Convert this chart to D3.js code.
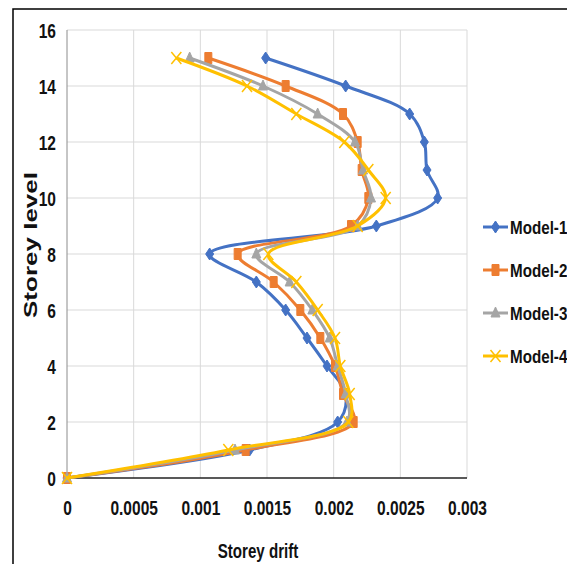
<!DOCTYPE html>
<html><head><meta charset="utf-8">
<script src="https://cdn.jsdelivr.net/npm/d3@7/dist/d3.min.js"></script>
<style>body{margin:0;background:#fff}svg{display:block}</style>
</head><body>
<svg id="c" width="567" height="564"></svg>
<script>
const levels = [0,1,2,3,4,5,6,7,8,9,10,11,12,13,14,15];
const model1 = [0,0.00137,0.00203,0.00209,0.00195,0.00180,0.00164,0.00142,0.00107,0.00232,0.00278,0.00270,0.00268,0.00257,0.00209,0.00149];
const model2 = [0,0.00134,0.00215,0.00207,0.00201,0.00190,0.00175,0.00155,0.00128,0.00213,0.00226,0.00221,0.00218,0.00207,0.00164,0.00106];
const model3 = [0,0.00126,0.00210,0.00209,0.00203,0.00197,0.00184,0.00167,0.00142,0.00218,0.00228,0.00222,0.00216,0.00188,0.00147,0.00092];
const model4 = [0,0.00121,0.00211,0.00212,0.00205,0.00201,0.00188,0.00172,0.00151,0.00218,0.00239,0.00226,0.00208,0.00172,0.00135,0.00082];
const seriesNames = ["Model-1","Model-2","Model-3","Model-4"];
const colors = ["#4472C4","#ED7D31","#A5A5A5","#FFC000"];
const markers = ["diamond","square","triangle","x"];
const xTicks = [0,0.0005,0.001,0.0015,0.002,0.0025,0.003];
const xTickLabels = ["0","0.0005","0.001","0.0015","0.002","0.0025","0.003"];
const yTicks = [0,2,4,6,8,10,12,14,16];
const yTickLabels = ["0","2","4","6","8","10","12","14","16"];
const xTitle = "Storey drift";
const yTitle = "Storey level";

const svg = d3.select("#c");
const FONT = "Liberation Sans, Arial, sans-serif";
const x = d3.scaleLinear().domain([0,0.003]).range([67,467]);
const y = d3.scaleLinear().domain([0,16]).range([478,30]);

// frame
svg.append("path").attr("d","M13,564 L13,9 L567,9").attr("fill","none").attr("stroke","#000").attr("stroke-width",1.5);

// gridlines
const g = svg.append("g");
g.selectAll(".gx").data(xTicks.slice(1)).join("line")
  .attr("x1",d=>x(d)).attr("x2",d=>x(d)).attr("y1",y(16)).attr("y2",y(0))
  .attr("stroke","#d9d9d9").attr("stroke-width",1);
g.selectAll(".gy").data(yTicks.slice(1)).join("line")
  .attr("x1",x(0)).attr("x2",x(0.003)).attr("y1",d=>y(d)).attr("y2",d=>y(d))
  .attr("stroke","#d9d9d9").attr("stroke-width",1);
g.append("line").attr("x1",x(0)).attr("x2",x(0)).attr("y1",y(16)).attr("y2",y(0))
  .attr("stroke","#8c8c8c").attr("stroke-width",1);
g.append("line").attr("x1",x(0)).attr("x2",x(0.003)).attr("y1",y(0)).attr("y2",y(0))
  .attr("stroke","#222").attr("stroke-width",1.5);

// axes labels
const xa = svg.append("g").attr("transform",`translate(0,${y(0)})`)
  .call(d3.axisBottom(x).tickValues(xTicks).tickFormat((d,i)=>xTickLabels[i]).tickSize(0));
xa.select(".domain").remove();
xa.selectAll("text").attr("y",0).attr("dy",0)
  .attr("transform","translate(0,37) scale(0.74,1)")
  .attr("font-family",FONT).attr("font-weight","bold").attr("font-size",21).attr("fill","#111");
const ya = svg.append("g").attr("transform",`translate(${x(0)},0)`)
  .call(d3.axisLeft(y).tickValues(yTicks).tickFormat((d,i)=>yTickLabels[i]).tickSize(0));
ya.select(".domain").remove();
ya.selectAll("text").attr("x",0).attr("dy",0)
  .attr("transform","translate(-11,7.5) scale(0.74,1)")
  .attr("font-family",FONT).attr("font-weight","bold").attr("font-size",21).attr("fill","#111");

svg.append("text").text(xTitle).attr("text-anchor","middle")
  .attr("transform","translate(258,558) scale(0.72,1)")
  .attr("font-family",FONT).attr("font-weight","bold").attr("font-size",21).attr("fill","#111");
svg.append("text").text(yTitle).attr("text-anchor","middle")
  .attr("transform","translate(37,245) scale(0.7,1) rotate(-90)")
  .attr("font-family",FONT).attr("font-weight","bold").attr("font-size",26).attr("fill","#111");

function markerPath(type){
  switch(type){
    case "diamond": return "M0,-6 L4,0 L0,6 L-4,0 Z";
    case "square": return "M-3.5,-5.5 L3.5,-5.5 L3.5,5.5 L-3.5,5.5 Z";
    case "triangle": return "M0,-6 L4.5,4 L-4.5,4 Z";
    case "x": return "M-5,-6 L5,6 M5,-6 L-5,6";
  }
}

const data = [model1,model2,model3,model4];
const line = d3.line().x(d=>x(d[0])).y(d=>y(d[1])).curve(d3.curveCatmullRom.alpha(0.5));
data.forEach((vals,i)=>{
  const pts = levels.map((l,j)=>[vals[j],l]);
  const sg = svg.append("g");
  sg.append("path").attr("d",line(pts)).attr("fill","none")
    .attr("stroke",colors[i]).attr("stroke-width",3).attr("stroke-linejoin","round");
  sg.selectAll("path.m").data(pts).join("path").attr("class","m")
    .attr("transform",d=>`translate(${x(d[0])},${y(d[1])})`)
    .attr("d",markerPath(markers[i]))
    .attr("fill",markers[i]==="x"?"none":colors[i])
    .attr("stroke",colors[i]).attr("stroke-width",markers[i]==="x"?1.5:1);
});

// legend
const legY = [227,270,313,356];
seriesNames.forEach((n,i)=>{
  const lg = svg.append("g").attr("transform",`translate(0,${legY[i]})`);
  lg.append("line").attr("x1",483).attr("x2",508).attr("y1",0).attr("y2",0)
    .attr("stroke",colors[i]).attr("stroke-width",3);
  lg.append("path").attr("transform","translate(495.5,0)").attr("d",markerPath(markers[i]))
    .attr("fill",markers[i]==="x"?"none":colors[i]).attr("stroke",colors[i])
    .attr("stroke-width",markers[i]==="x"?1.5:1);
  lg.append("text").text(n).attr("transform","translate(510,7) scale(0.8,1)")
    .attr("font-family",FONT).attr("font-weight","bold").attr("font-size",19).attr("fill","#111");
});
</script>
</body></html>
